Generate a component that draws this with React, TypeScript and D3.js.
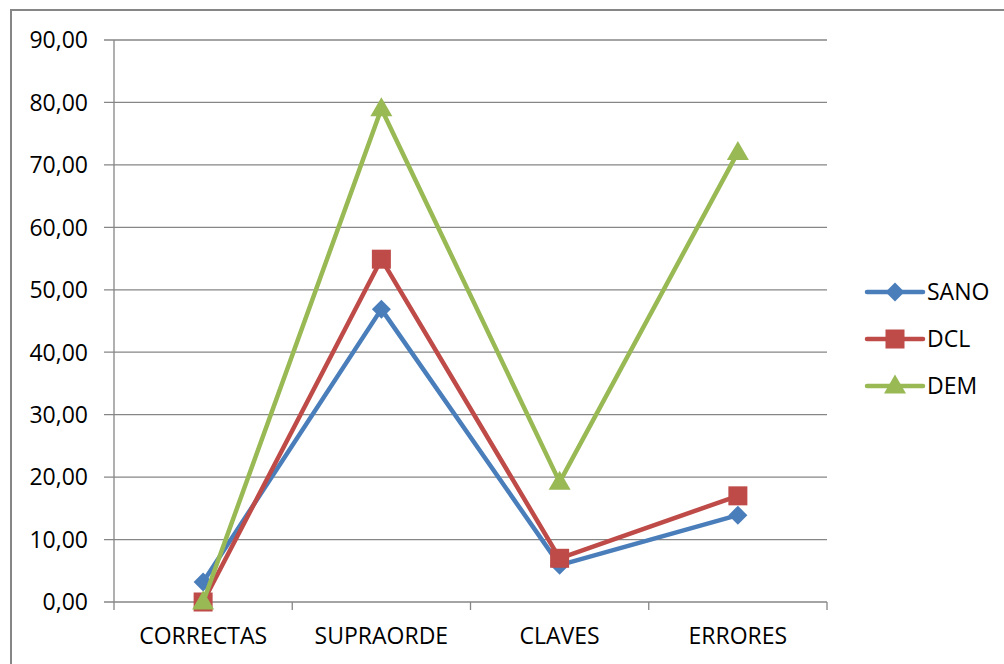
import React from "react";
import * as d3 from "d3";

const categories = ["CORRECTAS", "SUPRAORDE", "CLAVES", "ERRORES"];
const sano = [3.2, 46.9, 5.9, 13.9];
const dcl = [0, 54.9, 7, 17];
const dem = [0, 79, 19.2, 72];
const seriesNames = ["SANO", "DCL", "DEM"];
const seriesColors = ["#4A7EBB", "#BE4B48", "#98B954"];
const yTicks = [0, 10, 20, 30, 40, 50, 60, 70, 80, 90];

const W = 1004, H = 664;
const left = 114, right = 827, top = 40, bottom = 602;
const FONT = "'Open Sans', sans-serif";
const FS = 23;

function Marker({ kind, x, y, color }: { kind: number; x: number; y: number; color: string }) {
  if (kind === 0) {
    const s = 9.5;
    return <path d={`M${x},${y - s}L${x + s},${y}L${x},${y + s}L${x - s},${y}Z`} fill={color} />;
  }
  if (kind === 1) {
    const s = 9.5;
    return <rect x={x - s} y={y - s} width={2 * s} height={2 * s} fill={color} />;
  }
  const w = 11, h = 19;
  return <path d={`M${x},${y - h * 0.6}L${x + w},${y + h * 0.4}L${x - w},${y + h * 0.4}Z`} fill={color} />;
}

export default function App() {
  const x = d3.scaleBand<string>().domain(categories).range([left, right]);
  const y = d3.scaleLinear().domain([0, 90]).range([bottom, top]);
  const data = [sano, dcl, dem];
  const line = d3
    .line<number>()
    .x((_, i) => (x(categories[i]) as number) + x.bandwidth() / 2)
    .y((d) => y(d));
  const boundaries = [...categories.map((c) => x(c) as number), right];
  const legendY = [292, 339, 386];

  return (
    <svg width={W} height={H} style={{ position: "absolute", left: 0, top: 0 }} fontFamily={FONT}>
      <rect x={0} y={0} width={W} height={H} fill="#fff" />
      <rect x={11} y={10} width={1100} height={800} fill="none" stroke="#868686" strokeWidth={2} />
      {yTicks.map((t) => (
        <g key={t}>
          <line x1={104} x2={right} y1={y(t)} y2={y(t)} stroke="#868686" strokeWidth={1.3} />
          <text x={88} y={y(t)} dy="0.36em" textAnchor="end" fontSize={FS} fill="#000">
            {t.toFixed(2).replace(".", ",")}
          </text>
        </g>
      ))}
      <line x1={left} x2={left} y1={top} y2={bottom} stroke="#868686" strokeWidth={1.3} />
      {boundaries.map((b, i) => (
        <line key={i} x1={b} x2={b} y1={bottom} y2={bottom + 8} stroke="#868686" strokeWidth={1.3} />
      ))}
      {categories.map((c) => (
        <text key={c} x={(x(c) as number) + x.bandwidth() / 2} y={636} dy="0.36em" textAnchor="middle" fontSize={FS} fill="#000">
          {c}
        </text>
      ))}
      {data.map((s, si) => (
        <g key={si}>
          <path d={line(s) || ""} fill="none" stroke={seriesColors[si]} strokeWidth={4.5} strokeLinejoin="round" />
          {s.map((v, i) => (
            <Marker key={i} kind={si} x={(x(categories[i]) as number) + x.bandwidth() / 2} y={y(v)} color={seriesColors[si]} />
          ))}
        </g>
      ))}
      {seriesNames.map((n, si) => (
        <g key={n}>
          <line x1={867} x2={923} y1={legendY[si]} y2={legendY[si]} stroke={seriesColors[si]} strokeWidth={4.5} strokeLinecap="round" />
          <Marker kind={si} x={895} y={legendY[si]} color={seriesColors[si]} />
          <text x={927} y={legendY[si]} dy="0.36em" fontSize={FS} fill="#000">
            {n}
          </text>
        </g>
      ))}
    </svg>
  );
}
